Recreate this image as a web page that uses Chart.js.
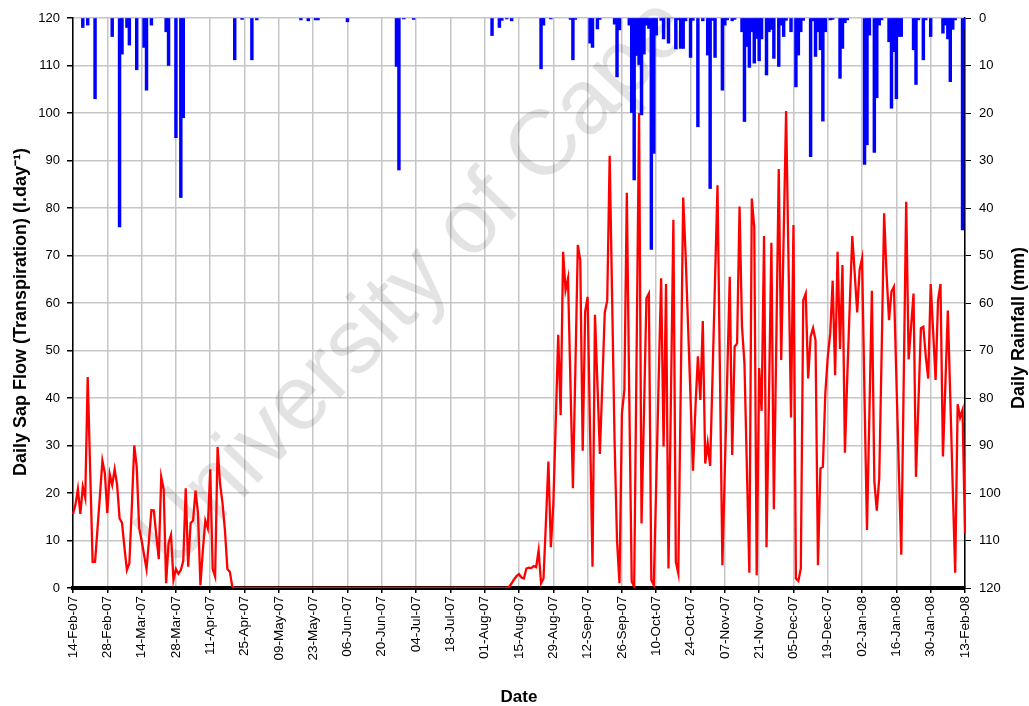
<!DOCTYPE html>
<html>
<head>
<meta charset="utf-8">
<title>Daily Sap Flow and Rainfall</title>
<script src="https://cdn.jsdelivr.net/npm/chart.js@4.4.1/dist/chart.umd.min.js"></script>
<style>
  html, body { margin: 0; padding: 0; background: #fff; }
  #wrap { width: 1029px; height: 706px; }
</style>
</head>
<body>
<div id="wrap"><canvas id="chart" width="1029" height="706"></canvas></div>
<script>
// one category per day, 14-Feb-07 .. 13-Feb-08
const START_DATE = new Date(2007, 1, 14);
const DAY_COUNT = 365;

// labels shown every 14 days
const tickLabels = [
  '14-Feb-07', '28-Feb-07', '14-Mar-07', '28-Mar-07', '11-Apr-07', '25-Apr-07',
  '09-May-07', '23-May-07', '06-Jun-07', '20-Jun-07', '04-Jul-07', '18-Jul-07',
  '01-Aug-07', '15-Aug-07', '29-Aug-07', '12-Sep-07', '26-Sep-07', '10-Oct-07',
  '24-Oct-07', '07-Nov-07', '21-Nov-07', '05-Dec-07', '19-Dec-07', '02-Jan-08',
  '16-Jan-08', '30-Jan-08', '13-Feb-08'
];

// daily sap flow (l/day), one row per fortnight
const sapFlow = [
  15.6, 17.5, 20.8, 15.6, 21.3, 19, 44.4, 25, 5.5, 5.5, 12.5, 19.5, 26.8, 24.2,
  15.8, 24, 21.7, 25, 21.7, 14.7, 13.7, 8.5, 3.8, 5.2, 17, 30, 25.5, 12.6,
  10, 7, 4, 10, 16.4, 16.3, 11, 6.1, 23.4, 20.8, 1, 9.5, 11.2, 1.7,
  4, 3, 3.8, 5.7, 21, 4.5, 13.7, 14.2, 20.5, 15.8, 0.6, 8, 14.2, 12.6,
  25, 4, 2.4, 29.7, 22, 17.9, 12.2, 4, 3.4, 0.3, 0, 0, 0, 0,
  0, 0, 0, 0, 0, 0, 0, 0, 0, 0, 0, 0, 0, 0,
  0, 0, 0, 0, 0, 0, 0, 0, 0, 0, 0, 0, 0, 0,
  0, 0, 0, 0, 0, 0, 0, 0, 0, 0, 0, 0, 0, 0,
  0, 0, 0, 0, 0, 0, 0, 0, 0, 0, 0, 0, 0, 0,
  0, 0, 0, 0, 0, 0, 0, 0, 0, 0, 0, 0, 0, 0,
  0, 0, 0, 0, 0, 0, 0, 0, 0, 0, 0, 0, 0, 0,
  0, 0, 0, 0, 0, 0, 0, 0, 0, 0, 0, 0, 0, 0,
  0, 0, 0, 0, 0, 0, 0, 0, 0, 0, 0.3, 1, 1.8, 2.5,
  2.9, 2.2, 2, 4.1, 4.3, 4.2, 4.6, 4.4, 7.9, 1, 2, 14, 26.6, 8.6,
  17.5, 35, 53.3, 36.4, 70.8, 62.7, 65.2, 43, 21, 46, 72.2, 69, 28.9, 58.2,
  61.3, 33, 4.5, 57.5, 43, 28.2, 43, 58, 60.5, 91, 61, 31, 10, 1,
  36.8, 41.7, 83.2, 40, 1.3, 0.3, 50, 100, 13.6, 37, 61, 62, 1.7, 0.6,
  22, 44, 65.2, 29.8, 64, 4.1, 40, 77.5, 5.5, 3.1, 42, 82.2, 70, 55,
  40, 24.7, 38, 48.8, 39.6, 56.2, 26.2, 30.5, 25.7, 45, 65, 84.8, 45, 4.8,
  25, 45, 65.5, 28, 50.8, 51.5, 80.3, 55, 47.3, 25, 3.2, 82, 76, 2.7,
  46.3, 37.3, 74.1, 8.6, 40, 72.7, 16.6, 52, 88.2, 48, 74, 100.4, 68, 35.9,
  76.4, 2, 1.5, 4.1, 60.6, 62, 44.1, 52.9, 54.7, 52.2, 4.8, 25.2, 25.5, 41,
  48.7, 53.6, 64.7, 44.8, 70.8, 50.3, 68, 28.5, 45, 60, 74.1, 66.2, 58, 67,
  69.4, 40, 12.2, 37, 62.6, 22.5, 16.3, 23.1, 50, 78.9, 66, 56.4, 62.4, 63.4,
  44, 25, 7, 44, 81.3, 48.1, 55, 62, 23.4, 39, 54.7, 55, 48.7, 44.1,
  64, 54, 43.8, 60.6, 64, 27.7, 43, 58.4, 40, 21, 3.2, 38.7, 35.9, 37.5,
  11.5
];

// daily rainfall (mm), one row per fortnight
const rainfall = [
  0, 0, 0, 0, 2, 0, 1.5, 0, 0, 17, 0, 0, 0, 0,
  0, 0, 3.9, 0, 0, 44, 7.6, 0, 2, 5.7, 0, 0, 10.9, 0,
  0, 6.2, 15.2, 0, 1.5, 0, 0, 0, 0, 0, 2.9, 10, 0, 0,
  25.2, 0, 37.8, 21, 0, 0, 0, 0, 0, 0, 0, 0, 0, 0,
  0, 0, 0, 0, 0, 0, 0, 0, 0, 0, 8.8, 0, 0, 0.3,
  0, 0, 0, 8.8, 0, 0.4, 0, 0, 0, 0, 0, 0, 0, 0,
  0, 0, 0, 0, 0, 0, 0, 0, 0, 0.4, 0, 0, 0.6, 0,
  0, 0.4, 0.4, 0, 0, 0, 0, 0, 0, 0, 0, 0, 0, 0,
  0.8, 0, 0, 0, 0, 0, 0, 0, 0, 0, 0, 0, 0, 0,
  0, 0, 0, 0, 0, 0, 10.2, 32, 0, 0.2, 0, 0, 0, 0.3,
  0, 0, 0, 0, 0, 0, 0, 0, 0, 0, 0, 0, 0, 0,
  0, 0, 0, 0, 0, 0, 0, 0, 0, 0, 0, 0, 0, 0,
  0, 0, 0, 3.7, 0, 0, 2, 0.5, 0, 0.2, 0, 0.6, 0, 0,
  0, 0, 0, 0, 0, 0, 0, 0, 0, 10.7, 1.5, 0, 0, 0.2,
  0, 0, 0, 0, 0, 0, 0, 0.3, 8.8, 0.3, 0, 0, 0, 0,
  0, 5.3, 6.2, 0, 2.3, 0.3, 0, 0, 0, 0, 0, 1.3, 12.4, 2.5,
  0, 0, 0, 1.5, 19.9, 34.1, 7.9, 9.8, 20.4, 7.6, 1.5, 2.2, 48.7, 28.5,
  3.6, 0, 0.5, 4.4, 0, 5.3, 0, 0, 6.5, 0.4, 6.4, 6.4, 0.6, 0,
  8.3, 0.5, 0, 22.9, 0, 0.6, 0, 7.8, 35.9, 0.5, 8.3, 0, 0, 15.2,
  1.5, 0.4, 0, 0.6, 0.3, 0, 0, 2.9, 21.8, 6, 10.4, 2.9, 9.5, 4.3,
  9, 4.4, 0, 12, 2.9, 2.4, 8.5, 0, 10.2, 1.5, 3.9, 0.5, 0, 2.9,
  0, 14.5, 7.8, 2.9, 0.5, 0, 0, 29.2, 0.6, 8.1, 2.9, 6.7, 21.7, 2.9,
  0, 0.4, 0.3, 0, 0, 12.7, 6.4, 1, 0.4, 0, 0, 0, 0, 0,
  0, 30.8, 26.7, 3.6, 0, 28.3, 16.8, 1.5, 0.4, 0, 0, 5, 19, 7.1,
  17, 3.9, 3.9, 0, 0, 0, 0, 6.7, 14, 0.4, 0, 8.8, 0.4, 0,
  3.9, 0, 0, 0, 0, 3.2, 1.5, 4.4, 13.4, 2.4, 0.4, 0, 0, 44.6,
  2.2
];

const MONTHS = ['Jan','Feb','Mar','Apr','May','Jun','Jul','Aug','Sep','Oct','Nov','Dec'];
const days = [];
for (let i = 0; i < DAY_COUNT; i++) {
  const d = new Date(START_DATE.getFullYear(), START_DATE.getMonth(), START_DATE.getDate() + i);
  days.push(String(d.getDate()).padStart(2, '0') + '-' + MONTHS[d.getMonth()] + '-' + String(d.getFullYear()).slice(2));
}

const FONT = '"Liberation Sans", Arial, sans-serif';
const GRID = '#c6c6c6';

// axis titles drawn by hand so both y titles read bottom-to-top
const axisTitles = {
  id: 'axisTitles',
  afterDraw(chart) {
    const c = chart.ctx;
    c.save();
    c.fillStyle = '#000';
    c.font = 'bold 18px ' + FONT;
    c.textAlign = 'center';
    c.textBaseline = 'middle';
    c.save();
    c.translate(21, 312);
    c.rotate(-Math.PI / 2);
    c.fillText('Daily Sap Flow (Transpiration) (l.day\u207B\u00B9)', 0, 0);
    c.restore();
    c.save();
    c.translate(1019, 328);
    c.rotate(-Math.PI / 2);
    c.fillText('Daily Rainfall (mm)', 0, 0);
    c.restore();
    c.font = 'bold 17px ' + FONT;
    c.fillText('Date', 519, 697);
    c.restore();
  }
};

// faint diagonal stamp behind the series
const stamp = {
  id: 'stamp',
  beforeDatasetsDraw(chart) {
    const c = chart.ctx;
    c.save();
    c.translate(172, 572);
    c.rotate(-46 * Math.PI / 180);
    c.font = '92px ' + FONT;
    c.fillStyle = 'rgba(0,0,0,0.11)';
    c.textBaseline = 'alphabetic';
    c.fillText('University of Cape Town', 0, 0);
    c.restore();
  }
};

new Chart(document.getElementById('chart'), {
  type: 'bar',
  data: {
    labels: days,
    datasets: [
      {
        type: 'line',
        label: 'Sap flow',
        data: sapFlow,
        yAxisID: 'y',
        borderColor: '#ff0000',
        borderWidth: 2.3,
        pointRadius: 0,
        tension: 0,
        order: 1
      },
      {
        type: 'bar',
        label: 'Rainfall',
        // dry days get no bar at all
        data: rainfall.map(v => v > 0 ? v : null),
        yAxisID: 'y1',
        backgroundColor: '#0000ff',
        barPercentage: 1,
        categoryPercentage: 1,
        barThickness: 2.8,
        order: 2
      }
    ]
  },
  options: {
    responsive: false,
    animation: false,
    devicePixelRatio: 1,
    layout: { padding: { top: 18, left: 0, right: 0, bottom: 0 } },
    plugins: { legend: { display: false }, tooltip: { enabled: false } },
    scales: {
      x: {
        type: 'category',
        offset: false,
        grid: {
          offset: false,
          lineWidth: 1.5,
          color: (ctx) => ctx.index % 14 === 0 ? GRID : 'rgba(0,0,0,0)',
          tickColor: (ctx) => ctx.index % 14 === 0 ? '#000' : 'rgba(0,0,0,0)',
          tickLength: 5
        },
        border: { color: '#000', width: 4 },
        ticks: {
          autoSkip: false,
          maxRotation: 90,
          minRotation: 90,
          padding: 3,
          color: '#000',
          font: { family: FONT, size: 13.5 },
          callback: (val, i) => i % 14 === 0 ? tickLabels[i / 14] : ''
        },
        afterFit: (s) => { s.height = 118; }
      },
      y: {
        position: 'left',
        min: 0,
        max: 120,
        ticks: { stepSize: 10, color: '#000', padding: 7, font: { family: FONT, size: 13 } },
        grid: { color: GRID, lineWidth: 1.5, tickColor: '#000', tickLength: 6 },
        border: { color: '#000', width: 1.5 },
        afterFit: (s) => { s.width = 73; }
      },
      y1: {
        position: 'right',
        reverse: true,
        min: 0,
        max: 120,
        ticks: { stepSize: 10, color: '#000', padding: 8, font: { family: FONT, size: 13 } },
        grid: { drawOnChartArea: false, tickColor: '#000', tickLength: 6 },
        border: { color: '#000', width: 1.5 },
        afterFit: (s) => { s.width = 64; }
      }
    }
  },
  plugins: [stamp, axisTitles]
});
</script>
</body>
</html>
